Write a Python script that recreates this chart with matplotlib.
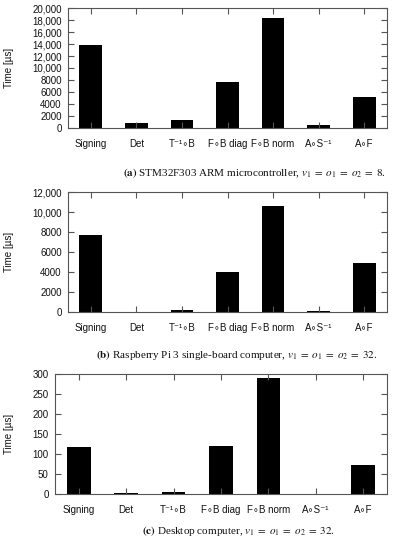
import matplotlib
matplotlib.use("Agg")
import matplotlib.pyplot as plt
from matplotlib.ticker import FuncFormatter, MultipleLocator

plt.rcParams['font.family'] = ['Liberation Sans', 'DejaVu Sans']
plt.rcParams['mathtext.fontset'] = 'stix'

categories = ["Signing", "Det", "T\u207b\u00b9\u2218B", "F\u2218B diag", "F\u2218B norm", "A\u2218S\u207b\u00b9", "A\u2218F"]

stm_values = [13900, 900, 1250, 7700, 18300, 450, 5100]
rpi_values = [7750, 40, 180, 4050, 10650, 90, 4950]
desk_values = [117, 1.5, 6, 120, 290, 1, 72]

panels = [
    dict(values=stm_values, ymax=20000, step=2000,
         pos=[68, 8, 387, 128],
         cap=r"$\mathbf{(a)}$ STM32F303 ARM microcontroller, $v_1\;=\;o_1\;=\;o_2\;=\;8$.",
         cap_y=173, cap_x=255),
    dict(values=rpi_values, ymax=12000, step=2000,
         pos=[68, 192, 387, 312],
         cap=r"$\mathbf{(b)}$ Raspberry Pi 3 single-board computer, $v_1\;=\;o_1\;=\;o_2\;=\;32$.",
         cap_y=355, cap_x=237),
    dict(values=desk_values, ymax=300, step=50,
         pos=[55, 374, 387, 494],
         cap=r"$\mathbf{(c)}$ Desktop computer, $v_1\;=\;o_1\;=\;o_2\;=\;32$.",
         cap_y=531, cap_x=238),
]

W, H = 393, 550
fig = plt.figure(figsize=(W / 100, H / 100), dpi=100)

frame_col = "#555555"

def fmt(v, _):
    v = int(round(v))
    if v >= 10000:
        return f"{v:,}"
    return f"{v}"

for p in panels:
    l, t, r, b = p["pos"]
    ax = fig.add_axes([l / W, 1 - b / H, (r - l) / W, (b - t) / H])
    x = list(range(len(categories)))
    ax.bar(x, p["values"], width=0.5, color="black", zorder=1)
    ax.set_xlim(-0.5, len(categories) - 0.5)
    ax.set_ylim(0, p["ymax"])
    ax.yaxis.set_major_locator(MultipleLocator(p["step"]))
    ax.yaxis.set_major_formatter(FuncFormatter(fmt))
    ax.set_xticks(x)
    ax.set_xticklabels(categories)
    ax.tick_params(direction="in", length=4.5, width=0.8, color=frame_col,
                   top=True, right=True, labelsize=7.0, labelcolor="#111111")
    ax.tick_params(axis="x", pad=8)
    ax.tick_params(axis="y", pad=4.5)
    for s in ax.spines.values():
        s.set_color(frame_col)
        s.set_linewidth(0.8)
        s.set_zorder(3)
    fig.text(9 / W, 1 - ((t + b) / 2) / H, "Time [\u00b5s]", rotation=90,
             ha="center", va="center", fontsize=7.0, color="#111111")
    fig.text(p["cap_x"] / W, 1 - p["cap_y"] / H, p["cap"],
             ha="center", va="center", fontsize=8.0,
             family=["Liberation Serif", "DejaVu Serif"], color="#111111")

fig.savefig("out.png", dpi=100)
